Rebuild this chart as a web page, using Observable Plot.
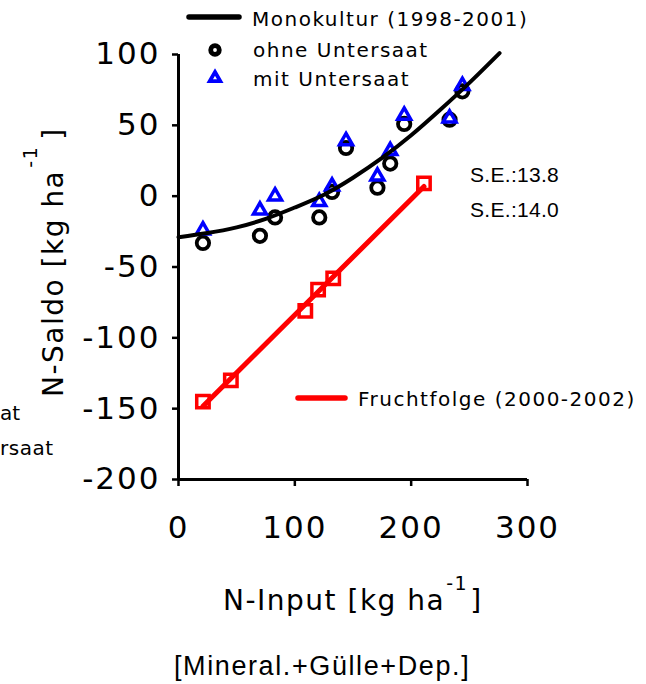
<!DOCTYPE html>
<html>
<head>
<meta charset="utf-8">
<script src="https://cdn.jsdelivr.net/npm/d3@7"></script>
<script src="https://cdn.jsdelivr.net/npm/@observablehq/plot@0.6"></script>
<style>
  body { margin: 0; background: #fff; }
  #chart svg { display: block; }
</style>
</head>
<body>
<div id="chart"></div>
<script>
// ---- data ----
const inputX     = [21, 70, 83, 121, 132, 144, 171, 182, 194, 233, 244];
const saldoOhne  = [-33, -28, -15, -15, 3, 34, 6, 23, 51, 54, 74];
const saldoMit   = [-24, -10, 0, -4, 7, 39, 14, 32, 57, 55, 78];
const fruchtX    = [21, 45, 109, 120, 133, 211];
const fruchtY    = [-145, -130, -81, -66, -58, 9];
const monoCurveX = [0, 25, 50, 75, 100, 125, 150, 175, 200, 225, 250, 276];
const monoCurveY = [-29, -26, -22, -16, -8, 1, 13, 27, 43, 61, 80, 101];
const xTicks = [0, 100, 200, 300];
const yTicks = [-200, -150, -100, -50, 0, 50, 100];

const ohne   = inputX.map((x, i) => ({x, y: saldoOhne[i]}));
const mit    = inputX.map((x, i) => ({x, y: saldoMit[i]}));
const frucht = fruchtX.map((x, i) => ({x, y: fruchtY[i]}));
const mono   = monoCurveX.map((x, i) => ({x, y: monoCurveY[i]}));

const RED = "#ff0000", BLUE = "#0000ff";
const fmt = d => String(d); // plain hyphen-minus as in the reference

const plot = Plot.plot({
  width: 646, height: 684,
  marginLeft: 178, marginRight: 119, marginTop: 54, marginBottom: 205,
  x: {domain: [0, 300], label: null},
  y: {domain: [-200, 100], label: null},
  style: {fontFamily: "DejaVu Sans", fontSize: "31px", letterSpacing: "2px", color: "black", background: "white"},
  marks: [
    Plot.axisY({ticks: yTicks, tickFormat: fmt, tickSize: 6, tickPadding: 12, strokeWidth: 2.5, label: null, fontSize: 31}),
    Plot.axisX({ticks: xTicks, tickFormat: fmt, tickSize: 7, tickPadding: 29, strokeWidth: 2.5, label: null, fontSize: 31}),
    Plot.ruleX([0], {y1: -200, y2: 100, stroke: "black", strokeWidth: 3}),
    Plot.ruleY([-200], {x1: 0, x2: 300, stroke: "black", strokeWidth: 3}),
    Plot.linearRegressionY(frucht, {x: "x", y: "y", stroke: RED, strokeWidth: 5, ci: 0}),
    Plot.dot(frucht, {x: "x", y: "y", symbol: "square", r: 7, stroke: RED, strokeWidth: 3.5, fill: "none"}),
    Plot.dot(ohne, {x: "x", y: "y", symbol: "circle", r: 6.2, stroke: "black", strokeWidth: 3.8, fill: "none"}),
    Plot.dot(mit, {x: "x", y: "y", symbol: "triangle", r: 4.8, stroke: BLUE, strokeWidth: 3.5, fill: "none"}),
    Plot.line(mono, {x: "x", y: "y", curve: "natural", stroke: "black", strokeWidth: 4})
  ]
});
document.getElementById("chart").appendChild(plot);

// ---- annotations: legends, titles, notes ----
const svg = d3.select(plot);
const g = svg.append("g").attr("class", "annotations").attr("text-anchor", "start");

function txt(x, y, str, size, family, spacing, anchor) {
  return g.append("text")
    .attr("x", x).attr("y", y)
    .attr("font-family", family || "DejaVu Sans")
    .attr("font-size", size)
    .attr("letter-spacing", spacing == null ? 1.5 : spacing)
    .attr("text-anchor", anchor || "start")
    .attr("fill", "black")
    .text(str);
}

// top legend
g.append("line").attr("x1", 189).attr("x2", 239).attr("y1", 17).attr("y2", 17)
  .attr("stroke", "black").attr("stroke-width", 5.5).attr("stroke-linecap", "round");
txt(252, 26, "Monokultur (1998-2001)", 20);
g.append("circle").attr("cx", 215).attr("cy", 50).attr("r", 4.3)
  .attr("fill", "none").attr("stroke", "black").attr("stroke-width", 4.8);
txt(253, 57, "ohne Untersaat", 20);
g.append("path").attr("transform", "translate(215,78)")
  .attr("d", d3.symbol(d3.symbolTriangle, Math.PI * 3.9 * 3.9)())
  .attr("fill", "none").attr("stroke", BLUE).attr("stroke-width", 3.8);
txt(253, 86, "mit Untersaat", 20);

// remnants of a legend cut at the left edge
txt(0, 420, "at", 20, null, 0);
txt(0, 455, "rsaat", 20, null, 0.5);

// S.E. notes
txt(470, 182, "S.E.:13.8", 21, "Liberation Sans", 0.3);
txt(470, 217, "S.E.:14.0", 21, "Liberation Sans", 0.3);

// Fruchtfolge legend
g.append("line").attr("x1", 298).attr("x2", 345).attr("y1", 398).attr("y2", 398)
  .attr("stroke", RED).attr("stroke-width", 5.5).attr("stroke-linecap", "round");
txt(358, 406, "Fruchtfolge (2000-2002)", 20);

// y-axis title
const yl = g.append("text")
  .attr("transform", "translate(63,397) rotate(-90)")
  .attr("text-anchor", "start")
  .attr("font-family", "DejaVu Sans").attr("font-size", 28)
  .attr("letter-spacing", 1.5).attr("fill", "black");
yl.append("tspan").text("N-Saldo [kg ha");
yl.append("tspan").attr("font-size", 19).attr("dy", -26).attr("dx", 2).text("-1");
yl.append("tspan").attr("dy", 26).attr("dx", 6).text("]");

// x-axis title
const xl = g.append("text")
  .attr("x", 223).attr("y", 610)
  .attr("text-anchor", "start")
  .attr("font-family", "DejaVu Sans").attr("font-size", 28)
  .attr("letter-spacing", 1.5).attr("fill", "black");
xl.append("tspan").text("N-Input [kg ha");
xl.append("tspan").attr("font-size", 19).attr("dy", -20).attr("dx", 1).text("-1");
xl.append("tspan").attr("dy", 20).attr("dx", 2).text("]");

// sub caption
txt(174, 675, "[Mineral.+Gülle+Dep.]", 27, "Liberation Sans", 1.6);
</script>
</body>
</html>
